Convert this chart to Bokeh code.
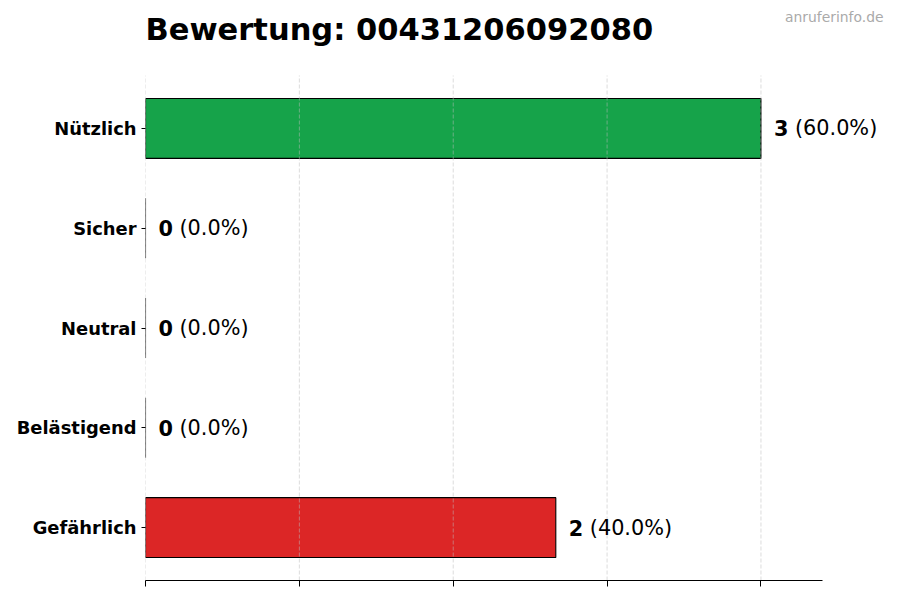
from bokeh.plotting import figure
from bokeh.models import (Range1d, FixedTicker, Label, LabelSet, ColumnDataSource,
                          CustomJSTickFormatter)
from bokeh.core.properties import value
from bokeh.embed import file_html
from bokeh.resources import INLINE

title_text = "Bewertung: 00431206092080"
watermark = "anruferinfo.de"
categories = ["Nützlich", "Sicher", "Neutral", "Belästigend", "Gefährlich"]
counts = [3, 0, 0, 0, 2]
colors = ["#16a34a", "#22c55e", "#9ca3af", "#f59e0b", "#dc2626"]
x_ticks = [0, 0.75, 1.5, 2.25, 3.0]

n = len(categories)
ypos = [n - 1 - i for i in range(n)]
total = sum(counts)
pcts = [f"({c / total * 100:.1f}%)" for c in counts]
nums = [str(c) for c in counts]

src = ColumnDataSource(dict(y=ypos, count=counts, color=colors, num=nums, pct=pcts))

FONT = "DejaVu Sans"

# layout (pixels)
W, H = 892, 592
LEFT, TOP_AREA, AXIS_RIGHT, AXIS_Y = 145, 75, 822, 580
BAR_H = 0.6
y_lo = -BAR_H / 2 - 0.23
y_hi = (n - 1) + BAR_H / 2 + 0.23
ppu_y = (AXIS_Y - TOP_AREA) / (y_hi - y_lo)
x_axis_end = max(counts) * 1.1
x_end = x_axis_end * (W - LEFT) / (AXIS_RIGHT - LEFT)

p = figure(width=W, height=H, output_backend="svg", toolbar_location=None,
           x_range=Range1d(0, x_end), y_range=Range1d(y_lo, y_hi + TOP_AREA / ppu_y),
           min_border_left=LEFT, min_border_right=0, min_border_top=0,
           min_border_bottom=H - AXIS_Y)

p.hbar(y="y", right="count", left=0, height=BAR_H, fill_color="color", line_color="black",
       line_width=1.1, source=src)

# grid lines drawn above bars, limited to the plot area
p.segment(x0=x_ticks, y0=[y_lo] * len(x_ticks), x1=x_ticks, y1=[y_hi] * len(x_ticks),
          line_color="#bbbbbb", line_alpha=0.65, line_dash="4 2", line_width=0.8)

p.add_layout(LabelSet(x="count", y="y", text="num", x_offset=13, source=src,
                      text_font=value(FONT), text_font_style="bold", text_font_size="20.8px",
                      text_baseline="middle", text_align="left", text_color="black"))
p.add_layout(LabelSet(x="count", y="y", text="pct", x_offset=34, source=src,
                      text_font=value(FONT), text_font_style="normal", text_font_size="20.8px",
                      text_baseline="middle", text_align="left", text_color="black"))

p.add_layout(Label(x=0, y=AXIS_Y - 29, x_units="data", y_units="screen", text=title_text,
                   text_align="left", text_baseline="alphabetic", text_color="black",
                   text_font=FONT, text_font_style="bold", text_font_size="30.5px"))
p.add_layout(Label(x=883 - LEFT, y=AXIS_Y - 16, x_units="screen", y_units="screen", text=watermark,
                   text_align="right", text_baseline="middle", text_color="#aaaaaa",
                   text_font=FONT, text_font_size="13.9px"))

p.outline_line_color = None
p.xgrid.grid_line_color = None
p.ygrid.grid_line_color = None

p.xaxis.ticker = FixedTicker(ticks=x_ticks)
p.xaxis.bounds = (0, x_axis_end)
p.xaxis.formatter = CustomJSTickFormatter(code="return '';")
p.xaxis.major_label_standoff = 0
p.xaxis.major_tick_out = 6
p.xaxis.major_tick_in = 0
p.xaxis.minor_tick_line_color = None
p.xaxis.axis_line_color = "black"
p.xaxis.major_tick_line_color = "black"

p.yaxis.ticker = FixedTicker(ticks=ypos)
p.yaxis.major_label_overrides = {yv: c for yv, c in zip(ypos, categories)}
p.yaxis.axis_line_color = None
p.yaxis.minor_tick_line_color = None
p.yaxis.major_tick_out = 4
p.yaxis.major_tick_in = 0
p.yaxis.major_tick_line_color = "black"
p.yaxis.major_label_text_font = FONT
p.yaxis.major_label_text_font_style = "bold"
p.yaxis.major_label_text_font_size = "17.9px"
p.yaxis.major_label_text_color = "black"
p.yaxis.major_label_standoff = 5

open("out.html", "w").write(file_html(p, INLINE))
